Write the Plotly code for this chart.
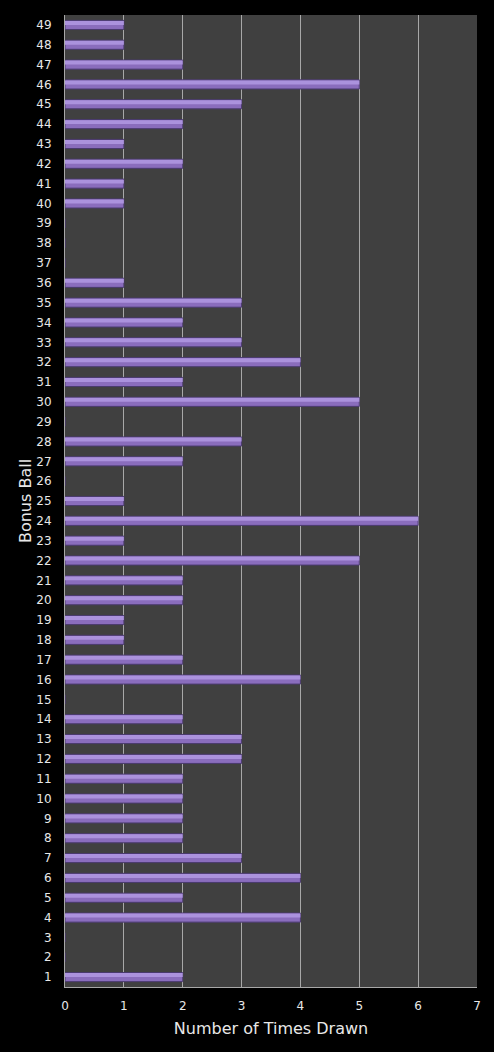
import plotly.graph_objects as go

# Bonus ball numbers and how many times each was drawn
balls = [str(n) for n in range(1, 50)]
times_drawn = [2, 0, 0, 4, 2, 4, 3, 2, 2, 2,
               2, 3, 3, 2, 0, 4, 2, 1, 1, 2,
               2, 5, 1, 6, 1, 0, 2, 3, 0, 5,
               2, 4, 3, 2, 3, 1, 0, 0, 0, 1,
               1, 2, 1, 2, 3, 5, 2, 1, 1]
x_ticks = [0, 1, 2, 3, 4, 5, 6, 7]

fig = go.Figure()

# main bar body
fig.add_trace(go.Bar(
    y=balls, x=times_drawn, orientation='h',
    width=0.46, offset=-0.23,
    marker=dict(color='#8a6dbd', line=dict(color='#4a3a6e', width=1)),
    showlegend=False, hoverinfo='x+y',
))
# lighter stripe on top half for the glossy look
fig.add_trace(go.Bar(
    y=balls, x=times_drawn, orientation='h',
    width=0.2, offset=0.0,
    marker=dict(color='#ab92dd', line=dict(width=0)),
    showlegend=False, hoverinfo='skip',
))

fig.update_layout(
    width=494, height=1052,
    paper_bgcolor='black', plot_bgcolor='#404040',
    margin=dict(l=65, r=17, t=15, b=65),
    barmode='overlay',
    font=dict(family='DejaVu Sans', color='#e8e8e8', size=12),
    xaxis=dict(
        range=[0, 7], tickvals=x_ticks,
        showgrid=True, gridcolor='#a8a8a8', gridwidth=1,
        showline=True, linecolor='#a8a8a8', zeroline=False,
        ticks='', ticklabelstandoff=8,
        title=dict(text='Number of Times Drawn', font=dict(size=16), standoff=10),
    ),
    yaxis=dict(
        type='category', categoryorder='array', categoryarray=balls,
        range=[-0.5, 48.5],
        showgrid=False, showline=True, linecolor='#a8a8a8',
        ticks='', ticklabelstandoff=10,
        title=dict(text='Bonus Ball', font=dict(size=16), standoff=0),
    ),
)

# page has a white 8px body margin by default; make it black and flush
fig.write_html("out.html", config={'displayModeBar': False},
               post_script="document.body.style.margin='0';document.body.style.background='black';")
